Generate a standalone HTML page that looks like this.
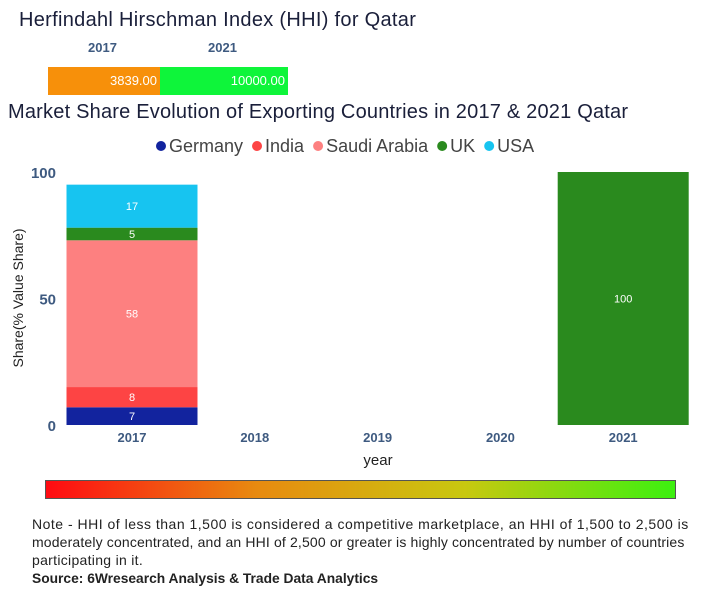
<!DOCTYPE html>
<html><head><meta charset="utf-8"><style>
body{margin:0;width:724px;height:600px;background:#fff;font-family:"Liberation Sans","DejaVu Sans",sans-serif;overflow:hidden;position:relative}
.abs{position:absolute}
</style></head><body>
<div class="abs" style="left:19px;top:9px;font-size:20px;letter-spacing:0.3px;color:#1a1f3a">Herfindahl Hirschman Index (HHI) for Qatar</div>
<div class="abs" style="left:88px;top:40px;font-size:13px;font-weight:bold;color:#3e5a80">2017</div>
<div class="abs" style="left:208px;top:40px;font-size:13px;font-weight:bold;color:#3e5a80">2021</div>
<div class="abs" style="left:48px;top:67px;width:112px;height:28px;background:#f7900a;color:#fff;font-size:13px;line-height:28px;text-align:right;box-sizing:border-box;padding-right:3px">3839.00</div>
<div class="abs" style="left:160px;top:67px;width:128px;height:28px;background:#0ef53a;color:#fff;font-size:13px;line-height:28px;text-align:right;box-sizing:border-box;padding-right:3px">10000.00</div>
<div class="abs" style="left:8px;top:101px;font-size:20px;letter-spacing:0.2px;color:#1a1f3a">Market Share Evolution of Exporting Countries in 2017 &amp; 2021 Qatar</div>
<svg class="abs" style="left:0;top:0" width="724" height="600" id="chart"></svg>
<div class="abs" style="left:45px;top:480px;width:631px;height:19px;border:1px solid #555;box-sizing:border-box;background:linear-gradient(to right,#ff0a12,#e88a10,#c8c810,#3cf010)"></div>
<div class="abs" style="left:32px;top:515px;font-size:14px;line-height:18px;color:#222;white-space:nowrap"><span style="letter-spacing:0.5px">Note - HHI of less than 1,500 is considered a competitive marketplace, an HHI of 1,500 to 2,500 is</span><br><span style="letter-spacing:0.15px">moderately concentrated, and an HHI of 2,500 or greater is highly concentrated by number of countries</span><br><span style="letter-spacing:0.3px">participating in it.</span><br><b style="font-size:13.8px">Source: 6Wresearch Analysis &amp; Trade Data Analytics</b></div>
<script>
const years=["2017","2018","2019","2020","2021"];
const countries=["Germany","India","Saudi Arabia","UK","USA"];
const colors=["#12239e","#fd4444","#fd8080","#2a8a1e","#17c4f0"];
const germany=[7,0,0,0,0];
const india=[8,0,0,0,0];
const saudi=[58,0,0,0,0];
const uk=[5,0,0,0,100];
const usa=[17,0,0,0,0];
const yTicks=[0,50,100];
const series=[germany,india,saudi,uk,usa];
const svg=document.getElementById('chart');
const NS="http://www.w3.org/2000/svg";
const y=v=>425-v*2.53;
const x=i=>132+i*122.8;
const bw=131;
function mk(t,a,txt){const e=document.createElementNS(NS,t);for(const k in a)e.setAttribute(k,a[k]);if(txt!==undefined)e.textContent=txt;svg.appendChild(e);return e;}
let lx=157;
countries.forEach((c,i)=>{
 const g=mk('circle',{cx:lx+4,cy:146,r:5,fill:colors[i]});
 
 
 const t=mk('text',{x:lx+12,y:152,'font-size':18,fill:'#444','font-family':'Liberation Sans, sans-serif'},c);
 
 
 lx+=12+t.getComputedTextLength()+10;
});
yTicks.forEach(v=>{
 const t=mk('text',{x:56,y:y(v)+6,'text-anchor':'end','font-size':15,'font-weight':'bold',fill:'#3e5a80'},v);
 
 
});
const yt=mk('text',{transform:'translate(23,298) rotate(-90)','text-anchor':'middle','font-size':14,fill:'#222'},'Share(% Value Share)');


years.forEach((yr,i)=>{
 const t=mk('text',{x:x(i),y:442,'text-anchor':'middle','font-size':13,'font-weight':'bold',fill:'#3e5a80'},yr);
 
 
 let base=0;
 series.forEach((s,k)=>{
  const v=s[i]; if(!v)return;
  const r=mk('rect',{x:x(i)-bw/2,y:y(base+v),width:bw,height:y(base)-y(base+v),fill:colors[k]});
  
  
  const l=mk('text',{x:x(i),y:(y(base)+y(base+v))/2+4,'text-anchor':'middle','font-size':11,fill:'#fff'},v);
  
  
  base+=v;
 });
});
const xt=mk('text',{x:378,y:465,'text-anchor':'middle','font-size':15,fill:'#222'},'year');


</script>
</body></html>
